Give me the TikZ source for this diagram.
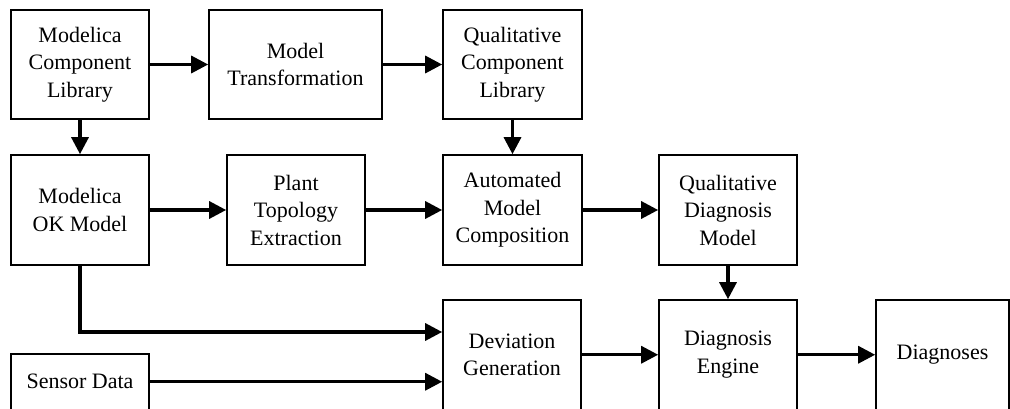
\documentclass[tikz,border=0pt]{standalone}
\usepackage{fontspec}
\setmainfont{Liberation Serif}
\usetikzlibrary{arrows.meta}
\begin{document}
\begin{tikzpicture}[x=1pt,y=-1pt,
  blk/.style={draw, line width=1.6pt, rectangle, align=center, inner sep=0pt,
    font=\fontsize{22}{27.5}\selectfont},
  conn/.style={line width=3.2pt, -{Triangle[length=17pt,width=17pt]}}]
\useasboundingbox (0,0) rectangle (1010,409);
\node[blk, minimum width=138.5pt, minimum height=109pt] (b1) at (80,64.5) {Modelica\\Component\\Library};
\node[blk, minimum width=173pt, minimum height=109pt] (b2) at (295.5,64.5) {Model\\Transformation};
\node[blk, minimum width=139pt, minimum height=109pt] (b3) at (512.5,64.5) {Qualitative\\Component\\Library};
\node[blk, minimum width=138.5pt, minimum height=110pt] (b4) at (80,210) {Modelica\\OK Model};
\node[blk, minimum width=138pt, minimum height=110pt] (b5) at (296,210) {Plant\\Topology\\Extraction};
\node[blk, minimum width=139pt, minimum height=110pt] (b6) at (512.5,210) {Automated\\Model\\Composition};
\node[blk, minimum width=138pt, minimum height=110pt] (b7) at (728,210) {Qualitative\\Diagnosis\\Model};
\node[blk, minimum width=138pt, minimum height=109.5pt] (b8) at (512,354.75) {Deviation\\Generation};
\node[blk, minimum width=138pt, minimum height=109.5pt] (b9) at (728,354.75) {Diagnosis\\Engine};
\node[blk, minimum width=133pt, minimum height=109.5pt] (b10) at (942.5,354.75) {Diagnoses};
\node[blk, minimum width=138.5pt, minimum height=55.5pt] (b11) at (80,381.75) {Sensor Data};
\draw[conn] (b1.east) -- (b2.west);
\draw[conn] (b2.east) -- (b3.west);
\draw[conn] (b1.south) -- (b4.north);
\draw[conn] (b3.south) -- (b6.north);
\draw[conn] (b4.east) -- (b5.west);
\draw[conn] (b5.east) -- (b6.west);
\draw[conn] (b6.east) -- (b7.west);
\draw[conn] (b7.south) -- (b9.north);
\draw[conn] (b4.south) |- ([yshift=22.75pt]b8.west);
\draw[conn] (b11.east) -- (b11.east -| b8.west);
\draw[conn] (b8.east) -- (b9.west);
\draw[conn] (b9.east) -- (b10.west);
\end{tikzpicture}
\end{document}
